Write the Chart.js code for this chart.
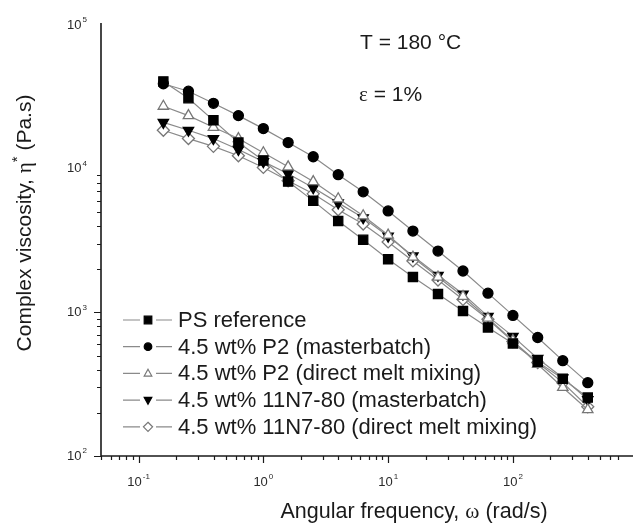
<!DOCTYPE html>
<html>
<head>
<meta charset="utf-8">
<script src="https://cdn.jsdelivr.net/npm/chart.js@4.4.1/dist/chart.umd.min.js"></script>
<style>
  html, body { margin: 0; padding: 0; background: #fff; overflow: hidden; }
</style>
</head>
<body>
<canvas id="chart" width="633" height="532"></canvas>
<script>
// angular frequency, rad/s
const omega = [0.158, 0.251, 0.398, 0.631, 1.0, 1.58, 2.51, 3.98, 6.31, 10, 15.8, 25.1, 39.8, 63.1, 100, 158, 251, 398];

// complex viscosity, Pa.s
const psReference = [40500, 30900, 21700, 15200, 11400, 8130, 5970, 4320, 3200, 2340, 1760, 1340, 1020, 785, 607, 452, 345, 255];
const p2Masterbatch = [39000, 34600, 28500, 23400, 19000, 15200, 12100, 9080, 6900, 5080, 3680, 2670, 1940, 1360, 952, 668, 461, 324];
const p2Direct = [27200, 23400, 19400, 16200, 12900, 10300, 8130, 6170, 4700, 3450, 2420, 1760, 1290, 910, 635, 435, 300, 210];
const n7Masterbatch = [21000, 18500, 16200, 13600, 11200, 9230, 7360, 5780, 4550, 3390, 2470, 1810, 1340, 937, 680, 477, 350, 247];
const n7Direct = [18500, 16200, 14300, 12300, 10200, 8240, 6680, 5170, 4120, 3090, 2280, 1680, 1230, 894, 627, 447, 324, 220];

const seriesLabels = [
  "PS reference",
  "4.5 wt% P2 (masterbatch)",
  "4.5 wt% P2 (direct melt mixing)",
  "4.5 wt% 11N7-80 (masterbatch)",
  "4.5 wt% 11N7-80 (direct melt mixing)"
];

const xTickValues = [0.1, 1, 10, 100];
const xTickExps = ["-1", "0", "1", "2"];
const yTickValues = [100, 1000, 10000, 100000];
const yTickExps = ["2", "3", "4", "5"];

const FONT = '"Liberation Sans", Arial, sans-serif';
const SERIF = '"Liberation Serif", "Times New Roman", serif';

const toPoints = (vals) => omega.map((w, i) => ({ x: w, y: vals[i] }));

const markers = [
  { style: "rect", rotation: 0, radius: 6.5, fill: "#000", stroke: "#000" },
  { style: "circle", rotation: 0, radius: 5, fill: "#000", stroke: "#000" },
  { style: "triangle", rotation: 0, radius: 6, fill: "#fff", stroke: "#777" },
  { style: "triangle", rotation: 180, radius: 6, fill: "#000", stroke: "#000" },
  { style: "rectRot", rotation: 0, radius: 6, fill: "#fff", stroke: "#777" }
];

const allSeries = [psReference, p2Masterbatch, p2Direct, n7Masterbatch, n7Direct];

const datasets = allSeries.map((vals, i) => ({
  label: seriesLabels[i],
  data: toPoints(vals),
  showLine: true,
  borderColor: "#8a8a8a",
  borderWidth: 1.2,
  pointStyle: markers[i].style,
  pointRotation: markers[i].rotation,
  pointRadius: markers[i].radius,
  pointBackgroundColor: markers[i].fill,
  pointBorderColor: markers[i].stroke,
  pointBorderWidth: 1.3
}));

// small legend marker
function drawMarker(ctx, m, x, y, r) {
  ctx.save();
  ctx.beginPath();
  if (m.style === "rect") {
    ctx.rect(x - r, y - r, 2 * r, 2 * r);
  } else if (m.style === "circle") {
    ctx.arc(x, y, r, 0, Math.PI * 2);
  } else if (m.style === "triangle") {
    const s = m.rotation ? -1 : 1;
    ctx.moveTo(x, y - s * r * 1.1);
    ctx.lineTo(x + r, y + s * r * 0.7);
    ctx.lineTo(x - r, y + s * r * 0.7);
    ctx.closePath();
  } else {
    ctx.moveTo(x, y - r * 1.2);
    ctx.lineTo(x + r * 1.2, y);
    ctx.lineTo(x, y + r * 1.2);
    ctx.lineTo(x - r * 1.2, y);
    ctx.closePath();
  }
  ctx.fillStyle = m.fill;
  ctx.fill();
  ctx.lineWidth = 1.2;
  ctx.strokeStyle = m.stroke;
  ctx.stroke();
  ctx.restore();
}

function drawPow(ctx, x, y, exp, align) {
  ctx.font = "13px " + FONT;
  const bw = ctx.measureText("10").width;
  ctx.font = "8px " + FONT;
  const ew = ctx.measureText(exp).width;
  const total = bw + ew + 1;
  const x0 = align === "right" ? x - total : x - total / 2;
  ctx.textAlign = "left";
  ctx.textBaseline = "middle";
  ctx.font = "13px " + FONT;
  ctx.fillText("10", x0, y);
  ctx.font = "8px " + FONT;
  ctx.fillText(exp, x0 + bw + 1, y - 5);
}

// write a run of [text, font, size, dy] pieces starting at x
function drawRuns(ctx, runs, x, y) {
  runs.forEach(r => {
    ctx.font = r[2] + "px " + r[1];
    ctx.fillText(r[0], x, y + (r[3] || 0));
    x += ctx.measureText(r[0]).width;
  });
}

function runsWidth(ctx, runs) {
  return runs.reduce((s, r) => { ctx.font = r[2] + "px " + r[1]; return s + ctx.measureText(r[0]).width; }, 0);
}

const decor = {
  id: "decor",
  afterDraw(chart) {
    const { ctx, chartArea: a } = chart;
    const xs = chart.scales.x, ys = chart.scales.y;
    ctx.save();
    ctx.strokeStyle = "#1a1a1a";
    ctx.fillStyle = "#2a2a2a";

    // axis lines
    ctx.lineWidth = 1.6;
    ctx.beginPath();
    ctx.moveTo(a.left, a.top - 2);
    ctx.lineTo(a.left, a.bottom);
    ctx.lineTo(chart.width, a.bottom);
    ctx.stroke();

    // ticks, outward
    ctx.lineWidth = 1.2;
    ctx.beginPath();
    for (let e = -2; e <= 3; e++) {
      for (let k = 1; k <= 9; k++) {
        const v = k * Math.pow(10, e);
        const len = k === 1 ? 7 : 4;
        if (v >= xs.min && v <= xs.max) {
          const px = Math.round(xs.getPixelForValue(v)) + 0.5;
          ctx.moveTo(px, a.bottom);
          ctx.lineTo(px, a.bottom + len);
        }
        if (v >= ys.min && v <= ys.max) {
          const py = Math.round(ys.getPixelForValue(v)) + 0.5;
          ctx.moveTo(a.left, py);
          ctx.lineTo(a.left - len, py);
        }
      }
    }
    ctx.stroke();

    xTickValues.forEach((v, i) => drawPow(ctx, xs.getPixelForValue(v), a.bottom + 26, xTickExps[i], "center"));
    yTickValues.forEach((v, i) => drawPow(ctx, a.left - 14, ys.getPixelForValue(v), yTickExps[i], "right"));

    // axis titles
    ctx.fillStyle = "#1a1a1a";
    ctx.textAlign = "left";
    ctx.textBaseline = "middle";
    const xTitle = [["Angular frequency, ", FONT, 21.5], ["\u03c9", SERIF, 21.5], [" (rad/s)", FONT, 21.5]];
    drawRuns(ctx, xTitle, 414 - runsWidth(ctx, xTitle) / 2, 512);

    ctx.save();
    ctx.translate(25, 223);
    ctx.rotate(-Math.PI / 2);
    const yTitle = [["Complex viscosity, ", FONT, 21], ["\u03b7", SERIF, 21], ["*", FONT, 15, -7], [" (Pa.s)", FONT, 21]];
    drawRuns(ctx, yTitle, -runsWidth(ctx, yTitle) / 2, 0);
    ctx.restore();

    // annotations
    drawRuns(ctx, [["T = 180 \u00b0C", FONT, 21]], 360, 43);
    drawRuns(ctx, [["\u03b5", SERIF, 21], [" = 1%", FONT, 21]], 359, 95);

    // legend
    seriesLabels.forEach((label, i) => {
      const ly = 320 + i * 26.7;
      ctx.strokeStyle = "#8a8a8a";
      ctx.lineWidth = 1.2;
      ctx.beginPath();
      ctx.moveTo(123, ly);
      ctx.lineTo(140, ly);
      ctx.moveTo(156, ly);
      ctx.lineTo(172, ly);
      ctx.stroke();
      drawMarker(ctx, markers[i], 148, ly, 3.8);
      ctx.fillStyle = "#1a1a1a";
      drawRuns(ctx, [[label, FONT, 22]], 178, ly + 1);
    });

    ctx.restore();
  }
};

new Chart(document.getElementById("chart"), {
  type: "scatter",
  data: { datasets },
  options: {
    responsive: false,
    animation: false,
    devicePixelRatio: 1,
    layout: { padding: { left: 101, top: 25, right: 0, bottom: 76 } },
    plugins: { legend: { display: false }, tooltip: { enabled: false } },
    scales: {
      x: { type: "logarithmic", min: 0.05, max: 794, display: false },
      y: { type: "logarithmic", min: 100, max: 100000, display: false }
    }
  },
  plugins: [decor]
});
</script>
</body>
</html>
